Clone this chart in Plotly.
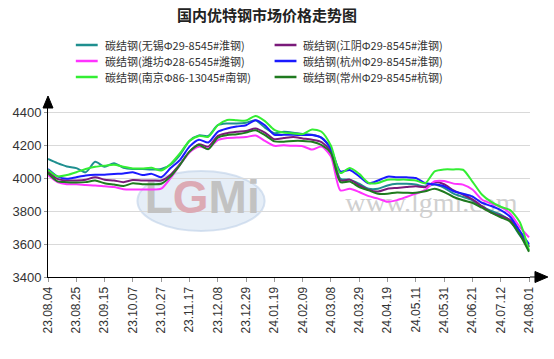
import plotly.graph_objects as go

# ---------------- data ----------------
tick_labels = ["23.08.04", "23.08.25", "23.09.15", "23.10.07", "23.10.27", "23.11.17",
               "23.12.08", "23.12.29", "24.01.19", "24.02.09", "24.03.08", "24.03.29",
               "24.04.19", "24.05.11", "24.05.31", "24.06.21", "24.07.12", "24.08.01"]

series_names = ["碳结钢(无锡Φ29-8545#淮钢)", "碳结钢(江阴Φ29-8545#淮钢)",
                "碳结钢(潍坊Φ28-6545#潍钢)", "碳结钢(杭州Φ29-8545#淮钢)",
                "碳结钢(南京Φ86-13045#南钢)", "碳结钢(常州Φ29-8545#杭钢)"]

wuxi = [4115, 4090, 4070, 4060, 4035, 4098, 4068, 4090, 4062, 4055, 4055, 4052, 4055,
        4080, 4140, 4225, 4258, 4255, 4320, 4330, 4330, 4335, 4350, 4305, 4272, 4280,
        4275, 4266, 4262, 4245, 4180, 3995, 3990, 3965, 3935, 3935, 3955, 3965, 3965,
        3960, 3948, 3960, 3940, 3905, 3885, 3865, 3828, 3800, 3778, 3740, 3655, 3588]

jiangyin = [4040, 3995, 3985, 3985, 3990, 4005, 3990, 3985, 3975, 3988, 3985, 3985, 3985,
            4020, 4085, 4160, 4205, 4190, 4255, 4272, 4280, 4285, 4300, 4275, 4235, 4242,
            4248, 4240, 4232, 4218, 4160, 3985, 3990, 3955, 3928, 3918, 3935, 3940, 3945,
            3950, 3945, 3975, 3962, 3925, 3900, 3870, 3830, 3790, 3770, 3745, 3680, 3580]

weifang = [4018, 3975, 3962, 3962, 3958, 3955, 3950, 3945, 3932, 3930, 3930, 3930, 3935,
           4000, 4080, 4155, 4190, 4180, 4230, 4243, 4245, 4248, 4258, 4225, 4195, 4198,
           4195, 4193, 4172, 4190, 4130, 3925, 3935, 3915, 3890, 3875, 3856, 3866, 3885,
           3905, 3928, 3980, 3982, 3966, 3960, 3930, 3870, 3845, 3825, 3785, 3705, 3640]

hangzhou = [4055, 4010, 3995, 4005, 4015, 4020, 4020, 4025, 4028, 4035, 4018, 4025, 4005,
            4060, 4110, 4190, 4232, 4215, 4280, 4300, 4312, 4320, 4350, 4320, 4262, 4262,
            4262, 4260, 4260, 4243, 4175, 4040, 4048, 4010, 3968, 3985, 4008, 4005, 4004,
            4000, 3968, 3962, 3950, 3920, 3905, 3888, 3850, 3830, 3805, 3765, 3680, 3600]

nanjing = [4050, 4010, 4018, 4035, 4055, 4068, 4075, 4080, 4068, 4058, 4058, 4062, 4045,
           4085, 4150, 4225, 4255, 4250, 4320, 4352, 4350, 4348, 4376, 4345, 4292, 4275,
           4270, 4266, 4294, 4280, 4195, 4030, 4060, 4025, 3970, 3970, 3990, 3990, 3990,
           3985, 3968, 4040, 4052, 4052, 4050, 3978, 3900, 3855, 3826, 3805, 3735, 3560]

changzhou = [4030, 3980, 3975, 3972, 3975, 3985, 3968, 3960, 3952, 3968, 3962, 3962, 3965,
             4010, 4080, 4160, 4200, 4175, 4245, 4260, 4265, 4275, 4290, 4260, 4222, 4220,
             4225, 4225, 4220, 4200, 4150, 3975, 3978, 3945, 3925, 3905, 3905, 3912, 3910,
             3910, 3920, 3935, 3915, 3885, 3865, 3850, 3820, 3790, 3762, 3735, 3660, 3553]

series_values = [wuxi, jiangyin, weifang, hangzhou, nanjing, changzhou]
series_colors = ["#1f8f8f", "#7a1a7a", "#ff33ff", "#1a1aff", "#33ee33", "#1f7a1f"]

# x position of each weekly observation, in tick-interval units (0 = 23.08.04, 17 = 24.08.01)
x_pos = [i / 3 for i in range(len(wuxi))]
y_ticks = [3400, 3600, 3800, 4000, 4200, 4400]

# ---------------- layout geometry ----------------
W, H = 554, 359
L, R, T, B = 45, 24, 100, 82
PW, PH = W - L - R, H - T - B


def px(x):
    return (x - L) / PW


def py(y):
    return (H - B - y) / PH


fig = go.Figure()

# ellipse of the watermark logo, as a filled trace drawn below the lines
shapes = []
annotations = []
shapes.append(dict(type="circle", xref="paper", yref="paper",
                   x0=px(135), x1=px(263), y0=py(231), y1=py(171),
                   fillcolor="rgba(205,221,240,0.5)",
                   line=dict(color="rgba(190,208,232,0.6)", width=2), layer="below"))

# watermark text (drawn first so the lines sit on top)
fig.add_trace(go.Scatter(
    x=[5.45], y=[3400 + (277 - 201) * 200 / 33], mode="text",
    text=["<b>L<span style='color:#dcaab4'>G</span>Mi</b>"],
    textfont=dict(family="Liberation Sans", size=46, color="#c2c2c2"),
    showlegend=False, hoverinfo="skip"))
fig.add_trace(go.Scatter(
    x=[13.55], y=[3400 + (277 - 205) * 200 / 33], mode="text",
    text=["www.lgmi.com"],
    textfont=dict(family="Liberation Serif", size=28, color="#d0d0d0"),
    showlegend=False, hoverinfo="skip"))

for name, vals, col in zip(series_names, series_values, series_colors):
    fig.add_trace(go.Scatter(
        x=x_pos, y=vals, mode="lines", name=name,
        line=dict(color=col, width=2, shape="spline", smoothing=0.7),
        showlegend=False))

# axis arrows
shapes.append(dict(type="path", xref="paper", yref="paper",
                   path=f"M {px(535)} {py(271.5)} L {px(548)} {py(277)} L {px(535)} {py(282.5)} Z",
                   fillcolor="black", line=dict(color="black", width=1)))
shapes.append(dict(type="line", xref="paper", yref="paper",
                   x0=1, x1=px(540), y0=0, y1=0, line=dict(color="black", width=1)))
shapes.append(dict(type="path", xref="paper", yref="paper",
                   path=f"M {px(40)} {py(108)} L {px(45)} {py(96)} L {px(50)} {py(108)} Z",
                   fillcolor="black", line=dict(color="black", width=1)))

# manual legend (2 columns x 3 rows)
col_x = [73, 273]
row_y = [45, 61, 77]
for i, (name, col) in enumerate(zip(series_names, series_colors)):
    cx = col_x[i % 2]
    ry = row_y[i // 2]
    shapes.append(dict(type="line", xref="paper", yref="paper",
                       x0=px(cx), x1=px(cx + 22), y0=py(ry), y1=py(ry),
                       line=dict(color=col, width=2.5)))
    annotations.append(dict(xref="paper", yref="paper", x=px(cx + 27), y=py(ry),
                            xanchor="left", yanchor="middle", showarrow=False,
                            text=name,
                            font=dict(family="Noto Sans CJK SC", size=11, color="#333333")))

fig.update_layout(
    width=W, height=H,
    margin=dict(l=L, r=R, t=T, b=B),
    paper_bgcolor="white", plot_bgcolor="white",
    title=dict(text="<b>国内优特钢市场价格走势图</b>", x=267 / W, xref="container",
               xanchor="center", y=1 - 16 / H, yanchor="middle",
               font=dict(family="Noto Sans CJK SC", size=15, color="#222222")),
    shapes=shapes, annotations=annotations,
    showlegend=False,
    xaxis=dict(range=[0, 17 * PW / (529 - 45)], tickmode="array",
               tickvals=list(range(len(tick_labels))), ticktext=tick_labels,
               tickangle=-90, showgrid=False, zeroline=False,
               showline=True, linecolor="black", linewidth=1,
               ticks="outside", ticklen=4, tickcolor="#999999",
               tickfont=dict(family="Liberation Sans", size=12, color="#333333")),
    yaxis=dict(range=[3400, 3400 + PH * 200 / 33], tickmode="array", tickvals=y_ticks,
               showgrid=True, gridcolor="#d9d9d9", gridwidth=1, zeroline=False,
               showline=True, linecolor="black", linewidth=1,
               ticks="outside", ticklen=3, tickcolor="#999999",
               tickfont=dict(family="Liberation Sans", size=13, color="#333333")),
)

fig.write_html("out.html")
